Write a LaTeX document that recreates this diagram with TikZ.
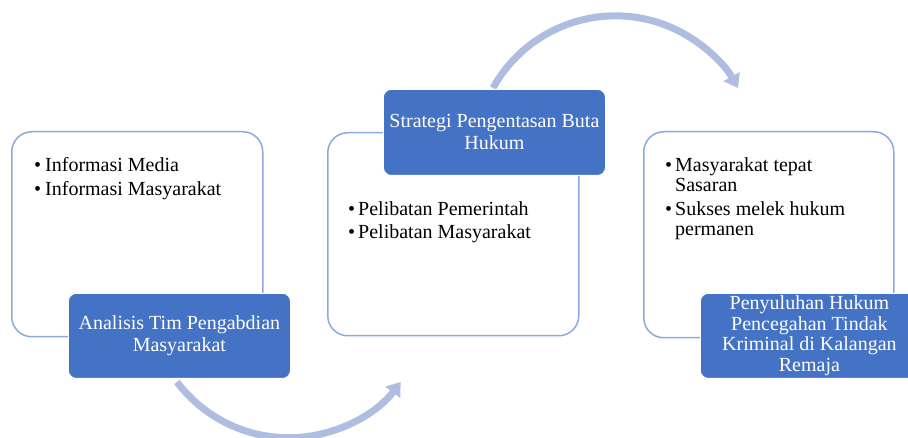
\documentclass[tikz,border=0pt]{standalone}
\usepackage{fontspec}
\setmainfont{Liberation Serif}
\usetikzlibrary{arrows.meta}
\definecolor{lblue}{HTML}{4472C4}
\definecolor{oblue}{HTML}{8EA9DB}
\definecolor{ablue}{HTML}{AFBDE0}
\begin{document}
\begin{tikzpicture}[x=1pt,y=-1pt,
  whitebox/.style={draw=oblue, line width=1.5pt, fill=white, rounded corners=20pt, anchor=north west, inner sep=0pt},
  labelbox/.style={draw=white, line width=0.8pt, fill=lblue, rounded corners=8pt, anchor=north west, inner sep=0pt, text=white, align=center, font=\fontsize{20}{22}\selectfont},
  itemtext/.style={anchor=base west, inner sep=0pt, font=\fontsize{20}{22}\selectfont},
  cyclearrow/.style={draw=ablue, line width=7pt, -{Triangle[length=13pt,width=18pt]}}
]
\clip (0,0) rectangle (908,438);
\fill[white] (0,0) rectangle (908,438);

% arrows
\coordinate (a1s) at (177,382);
\draw[cyclearrow] (a1s) arc[start angle=143, end angle=37, radius=140];
\coordinate (a2s) at (493,88);
\draw[cyclearrow] (a2s) arc[start angle=209, end angle=331, radius=140];

% white boxes
\node[whitebox, minimum width=251pt, minimum height=205pt] (b1) at (11,131) {};
\node[whitebox, minimum width=251pt, minimum height=203pt] (b2) at (327,132) {};
\node[whitebox, minimum width=250pt, minimum height=206pt] (b3) at (643,131) {};

% list texts box 1
\node[itemtext] (b1p1) at (34,172) {•};
\node[itemtext] (b1t1) at (45,172) {Informasi Media};
\node[itemtext] (b1p2) at (34,196) {•};
\node[itemtext] (b1t2) at (45,196) {Informasi Masyarakat};

% list texts box 2
\node[itemtext] (b2p1) at (348,216) {•};
\node[itemtext] (b2t1) at (358,216) {Pelibatan Pemerintah};
\node[itemtext] (b2p2) at (348,239) {•};
\node[itemtext] (b2t2) at (358,239) {Pelibatan Masyarakat};

% list texts box 3
\node[itemtext] (b3p1) at (665,172) {•};
\node[itemtext] (b3t1) at (675,172) {Masyarakat tepat};
\node[itemtext] (b3t2) at (675,192) {Sasaran};
\node[itemtext] (b3p2) at (665,216) {•};
\node[itemtext] (b3t3) at (675,216) {Sukses melek hukum};
\node[itemtext] (b3t4) at (675,236) {permanen};

% blue labels
\node[labelbox, minimum width=222pt, minimum height=85pt] (l1) at (68,293) {Analisis Tim Pengabdian\\Masyarakat};
\node[labelbox, minimum width=222pt, minimum height=86pt] (l2) at (383,89) {Strategi Pengentasan Buta\\Hukum};
\node[labelbox, minimum width=218pt, minimum height=85pt, font=\fontsize{20}{20.5}\selectfont] (l3) at (700,293) {Penyuluhan Hukum\\Pencegahan Tindak\\Kriminal di Kalangan\\Remaja};
\end{tikzpicture}
\end{document}
